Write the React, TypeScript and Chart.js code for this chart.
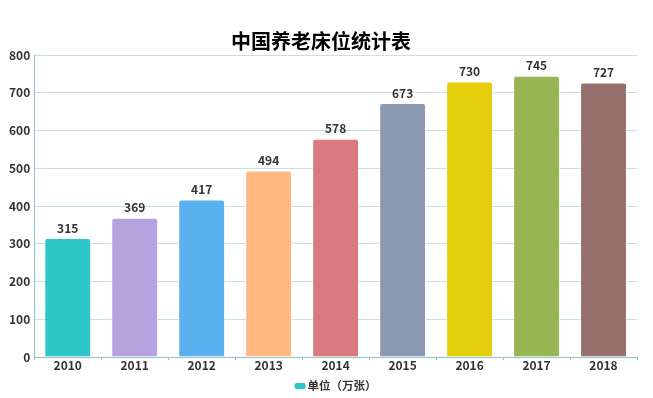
import React, { useEffect, useRef } from "react";
import { Chart, registerables } from "chart.js";

Chart.register(...registerables);

const categories = ["2010", "2011", "2012", "2013", "2014", "2015", "2016", "2017", "2018"];
const values = [315, 369, 417, 494, 578, 673, 730, 745, 727];
const barColors = ["#2ec7c9", "#b6a2de", "#5ab1ef", "#ffb980", "#d87a80", "#8d98b3", "#e5cf0d", "#97b552", "#95706d"];
const yTicks = [0, 100, 200, 300, 400, 500, 600, 700, 800];
const titleText = "中国养老床位统计表";
const seriesName = "单位（万张）";

const FONT = "'Noto Sans CJK SC', 'Noto Sans', sans-serif";

const valueLabels = {
  id: "valueLabels",
  afterDatasetsDraw(chart: any) {
    const ctx = chart.ctx;
    const meta = chart.getDatasetMeta(0);
    ctx.save();
    ctx.font = `bold 12px ${FONT}`;
    ctx.fillStyle = "#333";
    ctx.textAlign = "center";
    ctx.textBaseline = "bottom";
    meta.data.forEach((el: any, i: number) => {
      ctx.fillText(String(values[i]), el.x, el.y - 4);
    });
    ctx.restore();
  },
};

const bottomLegend = {
  id: "bottomLegend",
  afterDraw(chart: any) {
    const ctx = chart.ctx;
    ctx.save();
    ctx.font = `bold 11.5px ${FONT}`;
    const textW = ctx.measureText(seriesName).width;
    const boxW = 11;
    const gap = 2;
    const total = boxW + gap + textW;
    const cx = (chart.chartArea.left + chart.chartArea.right) / 2;
    const x0 = cx - total / 2;
    const cy = 386;
    ctx.fillStyle = barColors[0];
    ctx.beginPath();
    (ctx as any).roundRect(x0, cy - 3, boxW, 6, 2);
    ctx.fill();
    ctx.fillStyle = "#333";
    ctx.textAlign = "left";
    ctx.textBaseline = "middle";
    ctx.fillText(seriesName, x0 + boxW + gap, cy);
    ctx.restore();
  },
};

export default function App() {
  const ref = useRef<HTMLCanvasElement | null>(null);
  useEffect(() => {
    document.body.style.margin = "0";
    const chart = new Chart(ref.current as HTMLCanvasElement, {
      type: "bar",
      data: {
        labels: categories,
        datasets: [
          {
            label: seriesName,
            data: values,
            backgroundColor: barColors,
            borderColor: "rgba(255,255,255,0.6)",
            borderWidth: 1,
            borderRadius: { topLeft: 3, topRight: 3, bottomLeft: 0, bottomRight: 0 },
            borderSkipped: "bottom",
            categoryPercentage: 0.7,
            barPercentage: 1,
          },
        ],
      },
      options: {
        animation: false,
        responsive: false,
        layout: { padding: { left: 5, right: 16, top: 0, bottom: 27.6 } },
        plugins: {
          title: {
            display: true,
            text: titleText,
            color: "#000",
            font: { family: FONT, size: 20, weight: "bold" },
            padding: { top: 29, bottom: 2 },
          },
          legend: { display: false },
          tooltip: { enabled: false },
        },
        scales: {
          x: {
            grid: {
              drawOnChartArea: false,
              drawTicks: true,
              tickLength: 3,
              color: "#8fc3c8",
            },
            border: { color: "#8fc3c8", width: 1 },
            ticks: {
              color: "#333",
              padding: -2,
              font: { family: FONT, size: 12, weight: "bold" },
            },
          },
          y: {
            min: 0,
            max: 800,
            afterBuildTicks: (axis: any) => {
              axis.ticks = yTicks.map((v) => ({ value: v }));
            },
            grid: { color: "#c9e0e3", drawTicks: false },
            border: { color: "#8fc3c8", width: 1 },
            ticks: {
              color: "#333",
              padding: 4,
              font: { family: FONT, size: 12, weight: "bold" },
            },
          },
        },
      },
      plugins: [valueLabels, bottomLegend],
    } as any);
    return () => chart.destroy();
  }, []);
  return (
    <div style={{ width: 653, height: 398 }}>
      <canvas ref={ref} width={653} height={398} />
    </div>
  );
}
